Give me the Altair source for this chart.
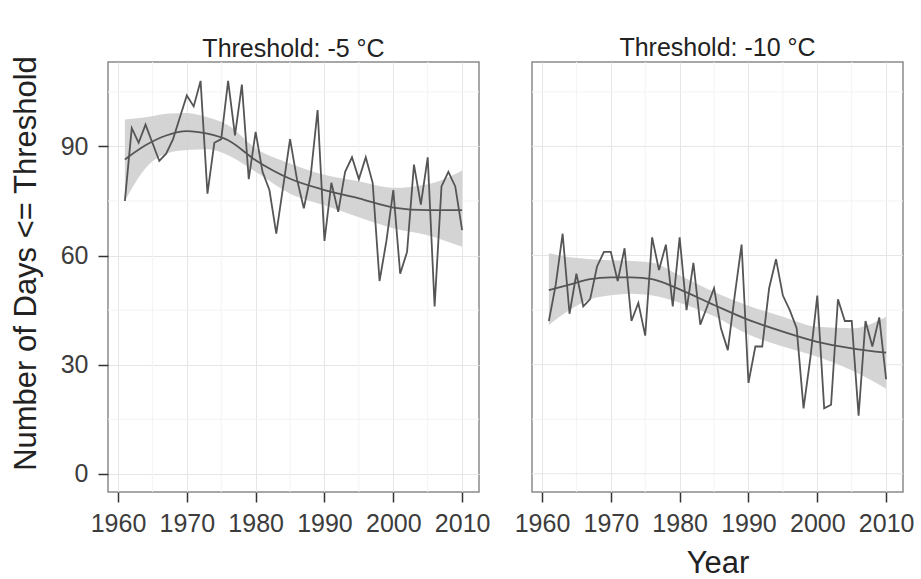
import altair as alt
import pandas as pd

years = list(range(1961, 2011))
days_m5 = [75, 95, 91, 96, 91, 86, 88, 92, 98, 104, 101, 108, 77, 91, 92, 108, 93, 107, 81, 94,
           83, 78, 66, 79, 92, 81, 73, 82, 100, 64, 80, 72, 83, 87, 81, 87, 80, 53, 64, 78,
           55, 61, 85, 74, 87, 46, 79, 83, 79, 67]
days_m10 = [42, 52, 66, 44, 55, 46, 48, 57, 61, 61, 53, 62, 42, 47, 38, 65, 56, 63, 46, 65,
            45, 58, 41, 46, 51, 40, 34, 49, 63, 25, 35, 35, 51, 59, 49, 45, 40, 18, 32, 49,
            18, 19, 48, 42, 42, 16, 42, 35, 43, 26]

smooth_years = [1961, 1964, 1967, 1970, 1973, 1976, 1980, 1985, 1990, 1995, 2000, 2005, 2010]
smooth_m5 = [86.4, 90.3, 93.0, 94.2, 93.5, 91.7, 86.2, 81.1, 78.0, 75.7, 73.2, 72.5, 72.5]
lo_m5 = [75.0, 84.0, 88.0, 89.0, 89.2, 87.6, 83.0, 77.0, 73.8, 70.5, 67.5, 65.6, 62.4]
hi_m5 = [97.4, 98.0, 99.0, 99.2, 98.0, 95.8, 89.5, 85.3, 82.2, 80.4, 78.6, 79.6, 83.4]

smooth_m10 = [50.5, 52.0, 53.5, 54.0, 54.0, 53.5, 50.7, 46.4, 42.3, 39.1, 36.3, 34.5, 33.3]
lo_m10 = [40.9, 45.0, 48.0, 49.1, 49.5, 49.0, 47.0, 43.3, 38.3, 35.0, 32.2, 28.5, 23.4]
hi_m10 = [60.6, 59.5, 59.0, 58.7, 58.5, 58.0, 54.5, 50.0, 46.2, 43.2, 40.4, 40.0, 43.2]

major_x = [1960, 1970, 1980, 1990, 2000, 2010]
minor_x = [1965, 1975, 1985, 1995, 2005]
major_y = [0, 30, 60, 90]
minor_y = [15, 45, 75, 105]

FONT = "Liberation Sans"
LINE = "#555555"
GRID = "#e6e6e6"
MINOR = "#f3f3f3"


def panel(obs, title, show_y, show_xtitle, title_offset):
    df_obs = pd.DataFrame({"year": years, "days": obs[0]})
    df_sm = pd.DataFrame({"year": smooth_years, "fit": obs[1], "lo": obs[2], "hi": obs[3]})
    xs = alt.Scale(domain=[1958.55, 2012.45], nice=False, zero=False)
    ys = alt.Scale(domain=[-5.0, 113.2], nice=False, zero=False)
    xaxis = alt.Axis(values=major_x, format="d", grid=True, gridColor=GRID, gridWidth=1,
                     tickSize=10, tickWidth=1.5, tickColor="#333333", domain=False,
                     labelFontSize=25, labelFont=FONT, labelColor="#3c3c3c", labelPadding=9,
                     title="Year" if show_xtitle else None, titleFont=FONT, titleFontSize=31,
                     titleFontWeight="normal", titleColor="#222222", titlePadding=12)
    if show_y:
        yaxis = alt.Axis(values=major_y, grid=True, gridColor=GRID, gridWidth=1,
                         tickSize=10, tickWidth=1.5, tickColor="#333333", domain=False,
                         labelFontSize=25, labelFont=FONT, labelColor="#3c3c3c", labelPadding=10,
                         title="Number of Days <= Threshold", titleFont=FONT, titleFontSize=31,
                         titleFontWeight="normal", titleColor="#222222", titlePadding=18,
                         titleY=201)
    else:
        yaxis = None

    layers = []
    layers.append(alt.Chart(pd.DataFrame({"mx": minor_x})).mark_rule(color=MINOR, strokeWidth=1).encode(
        x=alt.X("mx:Q", scale=xs, axis=xaxis)))
    layers.append(alt.Chart(pd.DataFrame({"my": minor_y})).mark_rule(color=MINOR, strokeWidth=1).encode(
        y=alt.Y("my:Q", scale=ys, axis=yaxis)))
    if not show_y:
        layers.append(alt.Chart(pd.DataFrame({"gy": major_y})).mark_rule(color=GRID, strokeWidth=1).encode(
            y=alt.Y("gy:Q", scale=ys, axis=yaxis)))
    layers.append(alt.Chart(df_sm).mark_area(color="#cfcfcf", opacity=0.9, interpolate="monotone").encode(
        x=alt.X("year:Q", scale=xs, axis=xaxis),
        y=alt.Y("lo:Q", scale=ys, axis=yaxis),
        y2="hi:Q"))
    layers.append(alt.Chart(df_sm).mark_line(color=LINE, strokeWidth=1.8, interpolate="monotone").encode(
        x=alt.X("year:Q", scale=xs, axis=xaxis),
        y=alt.Y("fit:Q", scale=ys, axis=yaxis)))
    layers.append(alt.Chart(df_obs).mark_line(color=LINE, strokeWidth=1.8).encode(
        x=alt.X("year:Q", scale=xs, axis=xaxis),
        y=alt.Y("days:Q", scale=ys, axis=yaxis)))
    return alt.layer(*layers).properties(
        width=371, height=430,
        title=alt.TitleParams(title, fontSize=25, font=FONT, fontWeight="normal",
                              color="#222222", anchor="middle", offset=title_offset, frame="group"))


left = panel((days_m5, smooth_m5, lo_m5, hi_m5), "Threshold: -5 °C", True, False, -7)
right = panel((days_m10, smooth_m10, lo_m10, hi_m10), "Threshold: -10 °C", False, True, 1)

chart = alt.hconcat(left, right, spacing=22).configure_view(
    stroke="#8a8a8a", strokeWidth=1.5
).properties(
    background="white",
    padding={"left": 9, "top": 34, "right": 3, "bottom": 0}
)

chart.save("out.html", embed_options={"renderer": "svg", "actions": False})
